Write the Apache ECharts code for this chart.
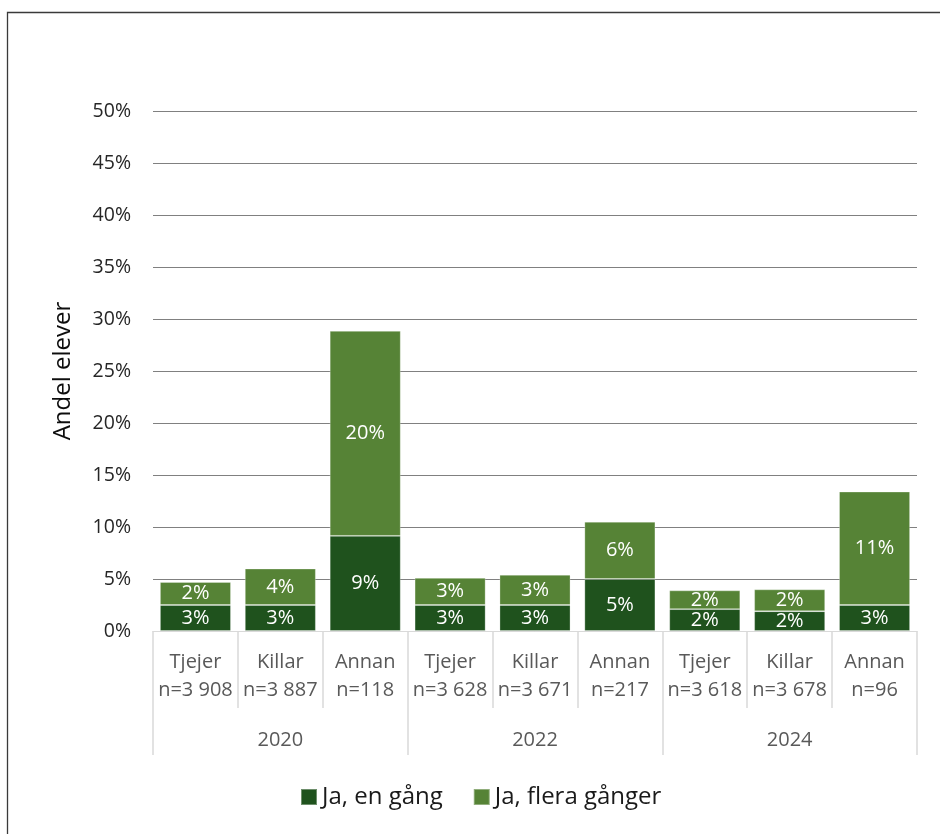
<!DOCTYPE html>
<html>
<head>
<meta charset="utf-8">
<script src="https://cdn.jsdelivr.net/npm/echarts@6/dist/echarts.min.js"></script>
<style>
  html, body { margin: 0; padding: 0; background: #ffffff; }
  #chart { width: 940px; height: 834px; }
</style>
</head>
<body>
<div id="chart"></div>
<script>
// Survey groups per year
const years = ['2020', '2022', '2024'];
const groups = ['Tjejer', 'Killar', 'Annan', 'Tjejer', 'Killar', 'Annan', 'Tjejer', 'Killar', 'Annan'];
const nLabels = ['n=3 908', 'n=3 887', 'n=118', 'n=3 628', 'n=3 671', 'n=217', 'n=3 618', 'n=3 678', 'n=96'];

// Share of students (%)
const jaEnGang = [2.5, 2.5, 9.15, 2.5, 2.5, 5.0, 2.1, 1.9, 2.5];
const jaFleraGanger = [2.2, 3.5, 19.7, 2.6, 2.9, 5.5, 1.8, 2.1, 10.9];

// Y axis ticks
const yMin = 0, yMax = 50, yStep = 5;

const categories = groups.map((g, i) => g + '\n' + nLabels[i]);
const FONT = '"Open Sans", "Noto Sans", sans-serif';

const chart = echarts.init(document.getElementById('chart'), null, { renderer: 'canvas' });

const segLabel = {
  show: true,
  position: 'inside',
  color: '#ffffff',
  fontFamily: FONT,
  fontSize: 20,
  formatter: p => Math.round(p.value) + '%'
};

chart.setOption({
  animation: false,
  backgroundColor: '#ffffff',
  textStyle: { fontFamily: FONT },
  graphic: [{
    type: 'rect',
    shape: { x: 7.5, y: 12.5, width: 960, height: 860 },
    style: { fill: 'none', stroke: '#3a3a3a', lineWidth: 1.3 },
    silent: true
  }],
  grid: { left: 153, right: 23, top: 111, bottom: 203 },
  legend: {
    left: 300,
    top: 785,
    padding: 0,
    itemWidth: 16,
    itemHeight: 16,
    itemGap: 30,
    icon: 'rect',
    textStyle: { fontFamily: FONT, fontSize: 24, color: '#1a1a1a' },
    data: ['Ja, en gång', 'Ja, flera gånger']
  },
  xAxis: [{
    type: 'category',
    data: categories,
    position: 'bottom',
    axisLine: { show: true, lineStyle: { color: '#d9d9d9', width: 1 } },
    axisTick: { show: true, interval: 0, alignWithLabel: false, length: 77, lineStyle: { color: '#d9d9d9', width: 1.5 } },
    axisLabel: {
      interval: 0, margin: 17,
      fontFamily: FONT, fontSize: 20, lineHeight: 28, color: '#595959'
    }
  }, {
    type: 'category',
    data: years,
    position: 'bottom',
    offset: 77,
    axisLine: { show: false },
    axisTick: { show: true, interval: 0, alignWithLabel: false, length: 47, lineStyle: { color: '#d9d9d9', width: 1.5 } },
    axisLabel: {
      interval: 0, margin: 22,
      fontFamily: FONT, fontSize: 20, color: '#595959'
    }
  }],
  yAxis: {
    type: 'value',
    min: yMin,
    max: yMax,
    interval: yStep,
    name: 'Andel elever',
    nameLocation: 'middle',
    nameRotate: 90,
    nameGap: 78,
    nameTextStyle: { fontFamily: FONT, fontSize: 24, color: '#0d0d0d' },
    axisLine: { show: false },
    axisTick: { show: false },
    axisLabel: {
      margin: 22,
      fontFamily: FONT, fontSize: 19.5, color: '#262626',
      formatter: '{value}%'
    },
    splitLine: { lineStyle: { color: '#808080', width: 1 } }
  },
  series: [{
    name: 'Ja, en gång',
    type: 'bar',
    stack: 'total',
    xAxisIndex: 0,
    barCategoryGap: '16.5%',
    data: jaEnGang,
    itemStyle: { color: '#1f521d', borderColor: 'rgba(255,255,255,0.35)', borderWidth: 0.8 },
    label: segLabel
  }, {
    name: 'Ja, flera gånger',
    type: 'bar',
    stack: 'total',
    xAxisIndex: 0,
    barCategoryGap: '16.5%',
    data: jaFleraGanger,
    itemStyle: { color: '#568336', borderColor: 'rgba(255,255,255,0.35)', borderWidth: 0.8 },
    label: segLabel
  }]
});
</script>
</body>
</html>
